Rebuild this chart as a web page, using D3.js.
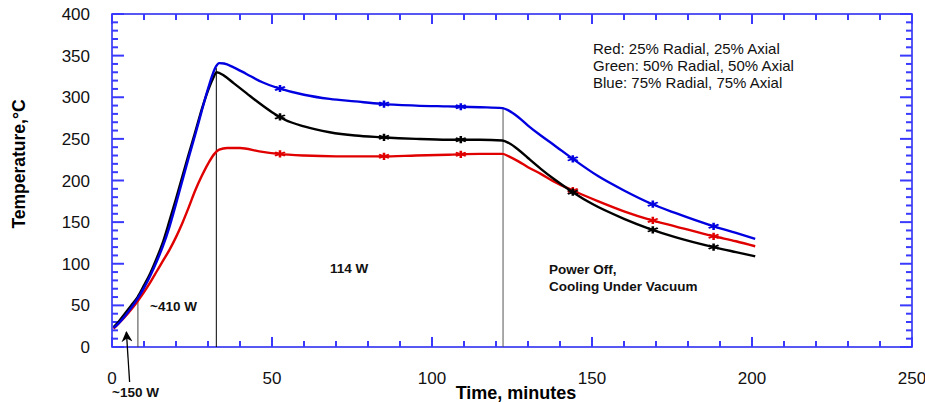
<!DOCTYPE html>
<html>
<head>
<meta charset="utf-8">
<script src="https://cdn.jsdelivr.net/npm/d3@7"></script>
<style>
  body { margin: 0; background: #fff; }
  svg { font-family: "Liberation Sans", Arial, sans-serif; }
</style>
</head>
<body>
<svg id="chart"></svg>
<script>
const width = 925;
const height = 402;
const margin = { top: 14, right: 13, bottom: 55, left: 112 };

// series: time (minutes) and temperature (C)
const blueT = [0.5, 2, 4, 6, 8, 10, 12, 14, 16, 18, 20, 22, 24, 26, 28, 30, 31.5, 32.5, 33.5, 35, 38, 42, 47, 52, 60, 68, 76, 84, 95, 105, 115, 122, 124, 127, 130, 134, 138, 144, 152, 160, 168, 176, 188, 195, 201];
const blueV = [23, 28, 37, 47, 58, 71, 86, 103, 122, 145, 172, 200, 228, 255, 283, 310, 328, 337, 341, 340.5, 336, 328, 318, 311, 303, 298, 295, 292, 290, 289, 288, 287, 284, 276, 266, 254, 243, 226, 205, 188, 173, 161, 145, 137, 130];

const blackT = [0.5, 2, 4, 6, 8, 10, 12, 14, 16, 18, 20, 22, 24, 26, 28, 30, 31.5, 32.7, 35, 38, 42, 46, 50, 54, 60, 68, 76, 84, 95, 105, 115, 122, 124, 127, 130, 134, 138, 144, 150, 160, 168, 176, 188, 195, 201];
const blackV = [24, 30, 40, 50, 60, 74, 89, 107, 127, 152, 178, 205, 232, 258, 285, 308, 322, 330, 326, 317, 305, 293, 282, 273, 265, 258, 254, 252, 250, 249, 249, 248, 245, 237, 227, 214, 202, 186, 172, 154, 142, 132, 120, 114, 109];

const redT = [0.5, 2, 4, 6, 8, 10, 12, 14, 16, 18, 20, 22, 24, 26, 28, 30, 32, 33.5, 36, 40, 46, 52, 60, 70, 84, 95, 105, 115, 122, 124, 127, 130, 134, 138, 144, 152, 160, 168, 176, 188, 195, 201];
const redV = [22, 28, 36, 45, 55, 66, 78, 91, 104, 117, 132, 149, 168, 188, 205, 220, 232, 237, 239, 239, 235, 232, 230, 229, 229, 230, 231, 232, 232, 229, 223, 216, 208, 199, 188, 175, 163, 153, 145, 133, 127, 121];

// times where the records show noisy bursts
const burstT = [52.5, 85, 109, 144, 169, 188];

const legendLines = ["Red: 25% Radial, 25% Axial", "Green: 50% Radial, 50% Axial", "Blue: 75% Radial, 75% Axial"];

// vertical marker lines [time, top temperature, colour]
const markers = [[8.1, 60, "#444"], [32.6, 335, "#000"], [122.2, 288, "#555"]];

const xTicks = [0, 50, 100, 150, 200, 250];
const yTicks = [0, 50, 100, 150, 200, 250, 300, 350, 400];

const svg = d3.select("#chart")
	.attr("width", width)
	.attr("height", height);

const x = d3.scaleLinear().domain([0, 250]).range([margin.left, width - margin.right]);
const y = d3.scaleLinear().domain([0, 400]).range([height - margin.bottom, margin.top]);

const axisBlue = "#2020f0";
const tickBlue = "#3a3aff";

// minor ticks every 10
const minorX = d3.range(0, 251, 10);
const minorY = d3.range(0, 401, 10);

// frame
svg.append("rect")
	.attr("x", x(0)).attr("y", y(400))
	.attr("width", x(250) - x(0)).attr("height", y(0) - y(400))
	.attr("fill", "none").attr("stroke", axisBlue).attr("stroke-width", 1.5);

// ticks point inward on all four sides
const len = (v, major, minor) => v % 50 === 0 ? major : minor;
const tickG = svg.append("g");
tickG.selectAll("line.bt").data(minorX).join("line").attr("class", "bt")
	.attr("x1", d => x(d)).attr("x2", d => x(d))
	.attr("y1", y(0)).attr("y2", d => y(0) - len(d, 10, 6));
tickG.selectAll("line.tp").data(minorX).join("line").attr("class", "tp")
	.attr("x1", d => x(d)).attr("x2", d => x(d))
	.attr("y1", y(400)).attr("y2", d => y(400) + len(d, 10, 6));
tickG.selectAll("line.lf").data(minorY).join("line").attr("class", "lf")
	.attr("y1", d => y(d)).attr("y2", d => y(d))
	.attr("x1", x(0)).attr("x2", d => x(0) + len(d, 12, 6));
tickG.selectAll("line.rt").data(minorY).join("line").attr("class", "rt")
	.attr("y1", d => y(d)).attr("y2", d => y(d))
	.attr("x1", x(250)).attr("x2", d => x(250) - len(d, 12, 6));
tickG.selectAll("line")
	.attr("stroke", tickBlue)
	.attr("stroke-width", 2);

// tick labels
svg.append("g").selectAll("text").data(xTicks).join("text")
	.attr("x", d => x(d)).attr("y", 384)
	.attr("text-anchor", "middle").attr("font-size", 17).attr("fill", "#111")
	.text(d => d);
svg.append("g").selectAll("text").data(yTicks).join("text")
	.attr("x", 90).attr("y", d => y(d) + 6)
	.attr("text-anchor", "end").attr("font-size", 17).attr("fill", "#111")
	.text(d => d);

// axis titles
svg.append("text")
	.attr("x", 516).attr("y", 399)
	.attr("text-anchor", "middle").attr("font-size", 18).attr("font-weight", "bold")
	.text("Time, minutes");
svg.append("text")
	.attr("transform", "translate(25,164) rotate(-90)")
	.attr("text-anchor", "middle").attr("font-size", 17.5).attr("font-weight", "bold")
	.text("Temperature,°C");

// vertical marker lines
svg.append("g").selectAll("line").data(markers).join("line")
	.attr("x1", d => x(d[0])).attr("x2", d => x(d[0]))
	.attr("y1", y(0)).attr("y2", d => y(d[1]))
	.attr("stroke", d => d[2]).attr("stroke-width", 1);

// curves
const line = d3.line()
	.x(d => x(d[0]))
	.y(d => y(d[1]))
	.curve(d3.curveMonotoneX);

const series = [
	{ t: redT, v: redV, color: "#e00000" },
	{ t: blackT, v: blackV, color: "#000000" },
	{ t: blueT, v: blueV, color: "#0000e0" }
];

for (let s of series) {
	const pts = s.t.map((t, i) => [t, s.v[i]]);
	svg.append("path")
		.datum(pts)
		.attr("fill", "none")
		.attr("stroke", s.color)
		.attr("stroke-width", 2.4)
		.attr("stroke-linejoin", "round")
		.attr("d", line);
	// noisy bursts
	const interp = t => {
		const i = d3.bisectLeft(s.t, t);
		const t0 = s.t[i - 1], t1 = s.t[i];
		return s.v[i - 1] + (s.v[i] - s.v[i - 1]) * (t - t0) / (t1 - t0);
	};
	svg.append("g").selectAll("path").data(burstT).join("path")
		.attr("transform", d => `translate(${x(d)},${y(interp(d))}) scale(1.6,1)`)
		.attr("d", d3.symbol(d3.symbolAsterisk, 36))
		.attr("fill", "none")
		.attr("stroke", s.color)
		.attr("stroke-width", 1.6);
}

// legend text
svg.append("g").selectAll("text").data(legendLines).join("text")
	.attr("x", 593).attr("y", (d, i) => 54 + i * 17)
	.attr("font-size", 15).attr("fill", "#111")
	.text(d => d);

// annotations
const notes = [
	{ text: "~410 W", x: 150, y: 311 },
	{ text: "114 W", x: 330, y: 273 },
	{ text: "Power Off,", x: 549, y: 274 },
	{ text: "Cooling Under Vacuum", x: 549, y: 291 },
	{ text: "~150 W", x: 112, y: 397 }
];
svg.append("g").selectAll("text").data(notes).join("text")
	.attr("x", d => d.x).attr("y", d => d.y)
	.attr("font-size", 13.5).attr("font-weight", "bold").attr("fill", "#111")
	.text(d => d.text);

// arrow pointing at the start of the ~150 W phase
const arrowTail = [5.5, -42], arrowTip = [4.5, 18];
svg.append("defs").append("marker")
	.attr("id", "head")
	.attr("viewBox", "0 0 10 10")
	.attr("refX", 9).attr("refY", 5)
	.attr("markerWidth", 15).attr("markerHeight", 11)
	.attr("markerUnits", "userSpaceOnUse")
	.attr("orient", "auto")
	.append("path").attr("d", "M0,0 L10,5 L0,10 L3,5 Z").attr("fill", "#000");
svg.append("line")
	.attr("x1", x(arrowTail[0])).attr("y1", y(arrowTail[1]))
	.attr("x2", x(arrowTip[0])).attr("y2", y(arrowTip[1]))
	.attr("stroke", "#000").attr("stroke-width", 1.3)
	.attr("marker-end", "url(#head)");
</script>
</body>
</html>
